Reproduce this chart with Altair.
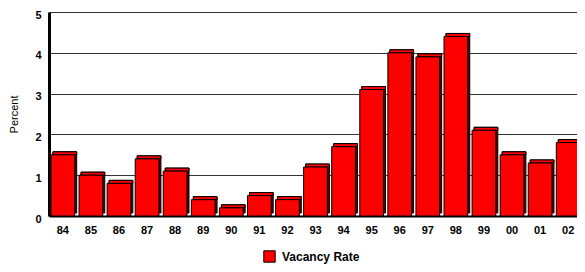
import altair as alt
import pandas as pd

years = ["84","85","86","87","88","89","90","91","92","93","94","95","96","97","98","99","00","01","02"]
rates = [1.5,1.0,0.8,1.4,1.1,0.4,0.2,0.5,0.4,1.2,1.7,3.1,4.0,3.9,4.4,2.1,1.5,1.3,1.8]
series = "Vacancy Rate"

df = pd.DataFrame({"year": years, "rate": rates, "series": [series]*len(years)})

FONT = "Liberation Sans"

x = alt.X("year:N", sort=years,
          scale=alt.Scale(paddingInner=0.155, paddingOuter=0.07, range=[0, 533]),
          axis=alt.Axis(title=None, labelAngle=0, labelFontWeight="bold", labelFontSize=11,
                        labelFont=FONT, labelColor="black", ticks=False, labelPadding=8,
                        domainColor="black", domainWidth=2, grid=False))
y = alt.Y("rate:Q", scale=alt.Scale(domain=[0, 5], nice=False),
          axis=alt.Axis(title="Percent", titleFontWeight="normal", titleFontSize=11, titleFont=FONT,
                        titleColor="black", titlePadding=15,
                        values=[0,1,2,3,4,5], labelFontWeight="bold", labelFontSize=11, labelFont=FONT,
                        labelColor="black", ticks=False, labelPadding=8, labelOffset=3,
                        domainColor="black", domainWidth=3,
                        gridColor="#333333", gridWidth=1.2, gridOpacity=1))

base = alt.Chart(df)

side = base.mark_bar(fill="#5a0000", stroke="black", strokeWidth=1, xOffset=2, yOffset=-3).encode(x=x, y=y)
top = base.mark_rect(fill="#ff0000", stroke="black", strokeWidth=1, xOffset=2, yOffset=-3, x2Offset=2).encode(
    x=x, y=y, y2=alt.Y2("rate:Q"))
front = base.mark_bar(stroke="black", strokeWidth=1).encode(
    x=x, y=y,
    color=alt.Color("series:N", scale=alt.Scale(domain=[series], range=["#ff0000"]),
                    legend=alt.Legend(title=None, orient="none", legendX=214, legendY=238,
                                      symbolType="square", symbolSize=130, symbolStrokeColor="black",
                                      symbolStrokeWidth=1, symbolFillColor="#ff0000",
                                      labelFontWeight="bold", labelFontSize=12, labelFont=FONT,
                                      labelColor="black", labelOffset=6)))

chart = alt.layer(side, top, front).properties(
    width=528, height=204,
    autosize=alt.AutoSizeParams(type="none"),
    padding={"left": 41, "top": 4, "right": 0, "bottom": 48},
).configure_view(stroke=None).configure(background="white")

chart.save("out.html", embed_options={"renderer": "svg", "actions": False})
